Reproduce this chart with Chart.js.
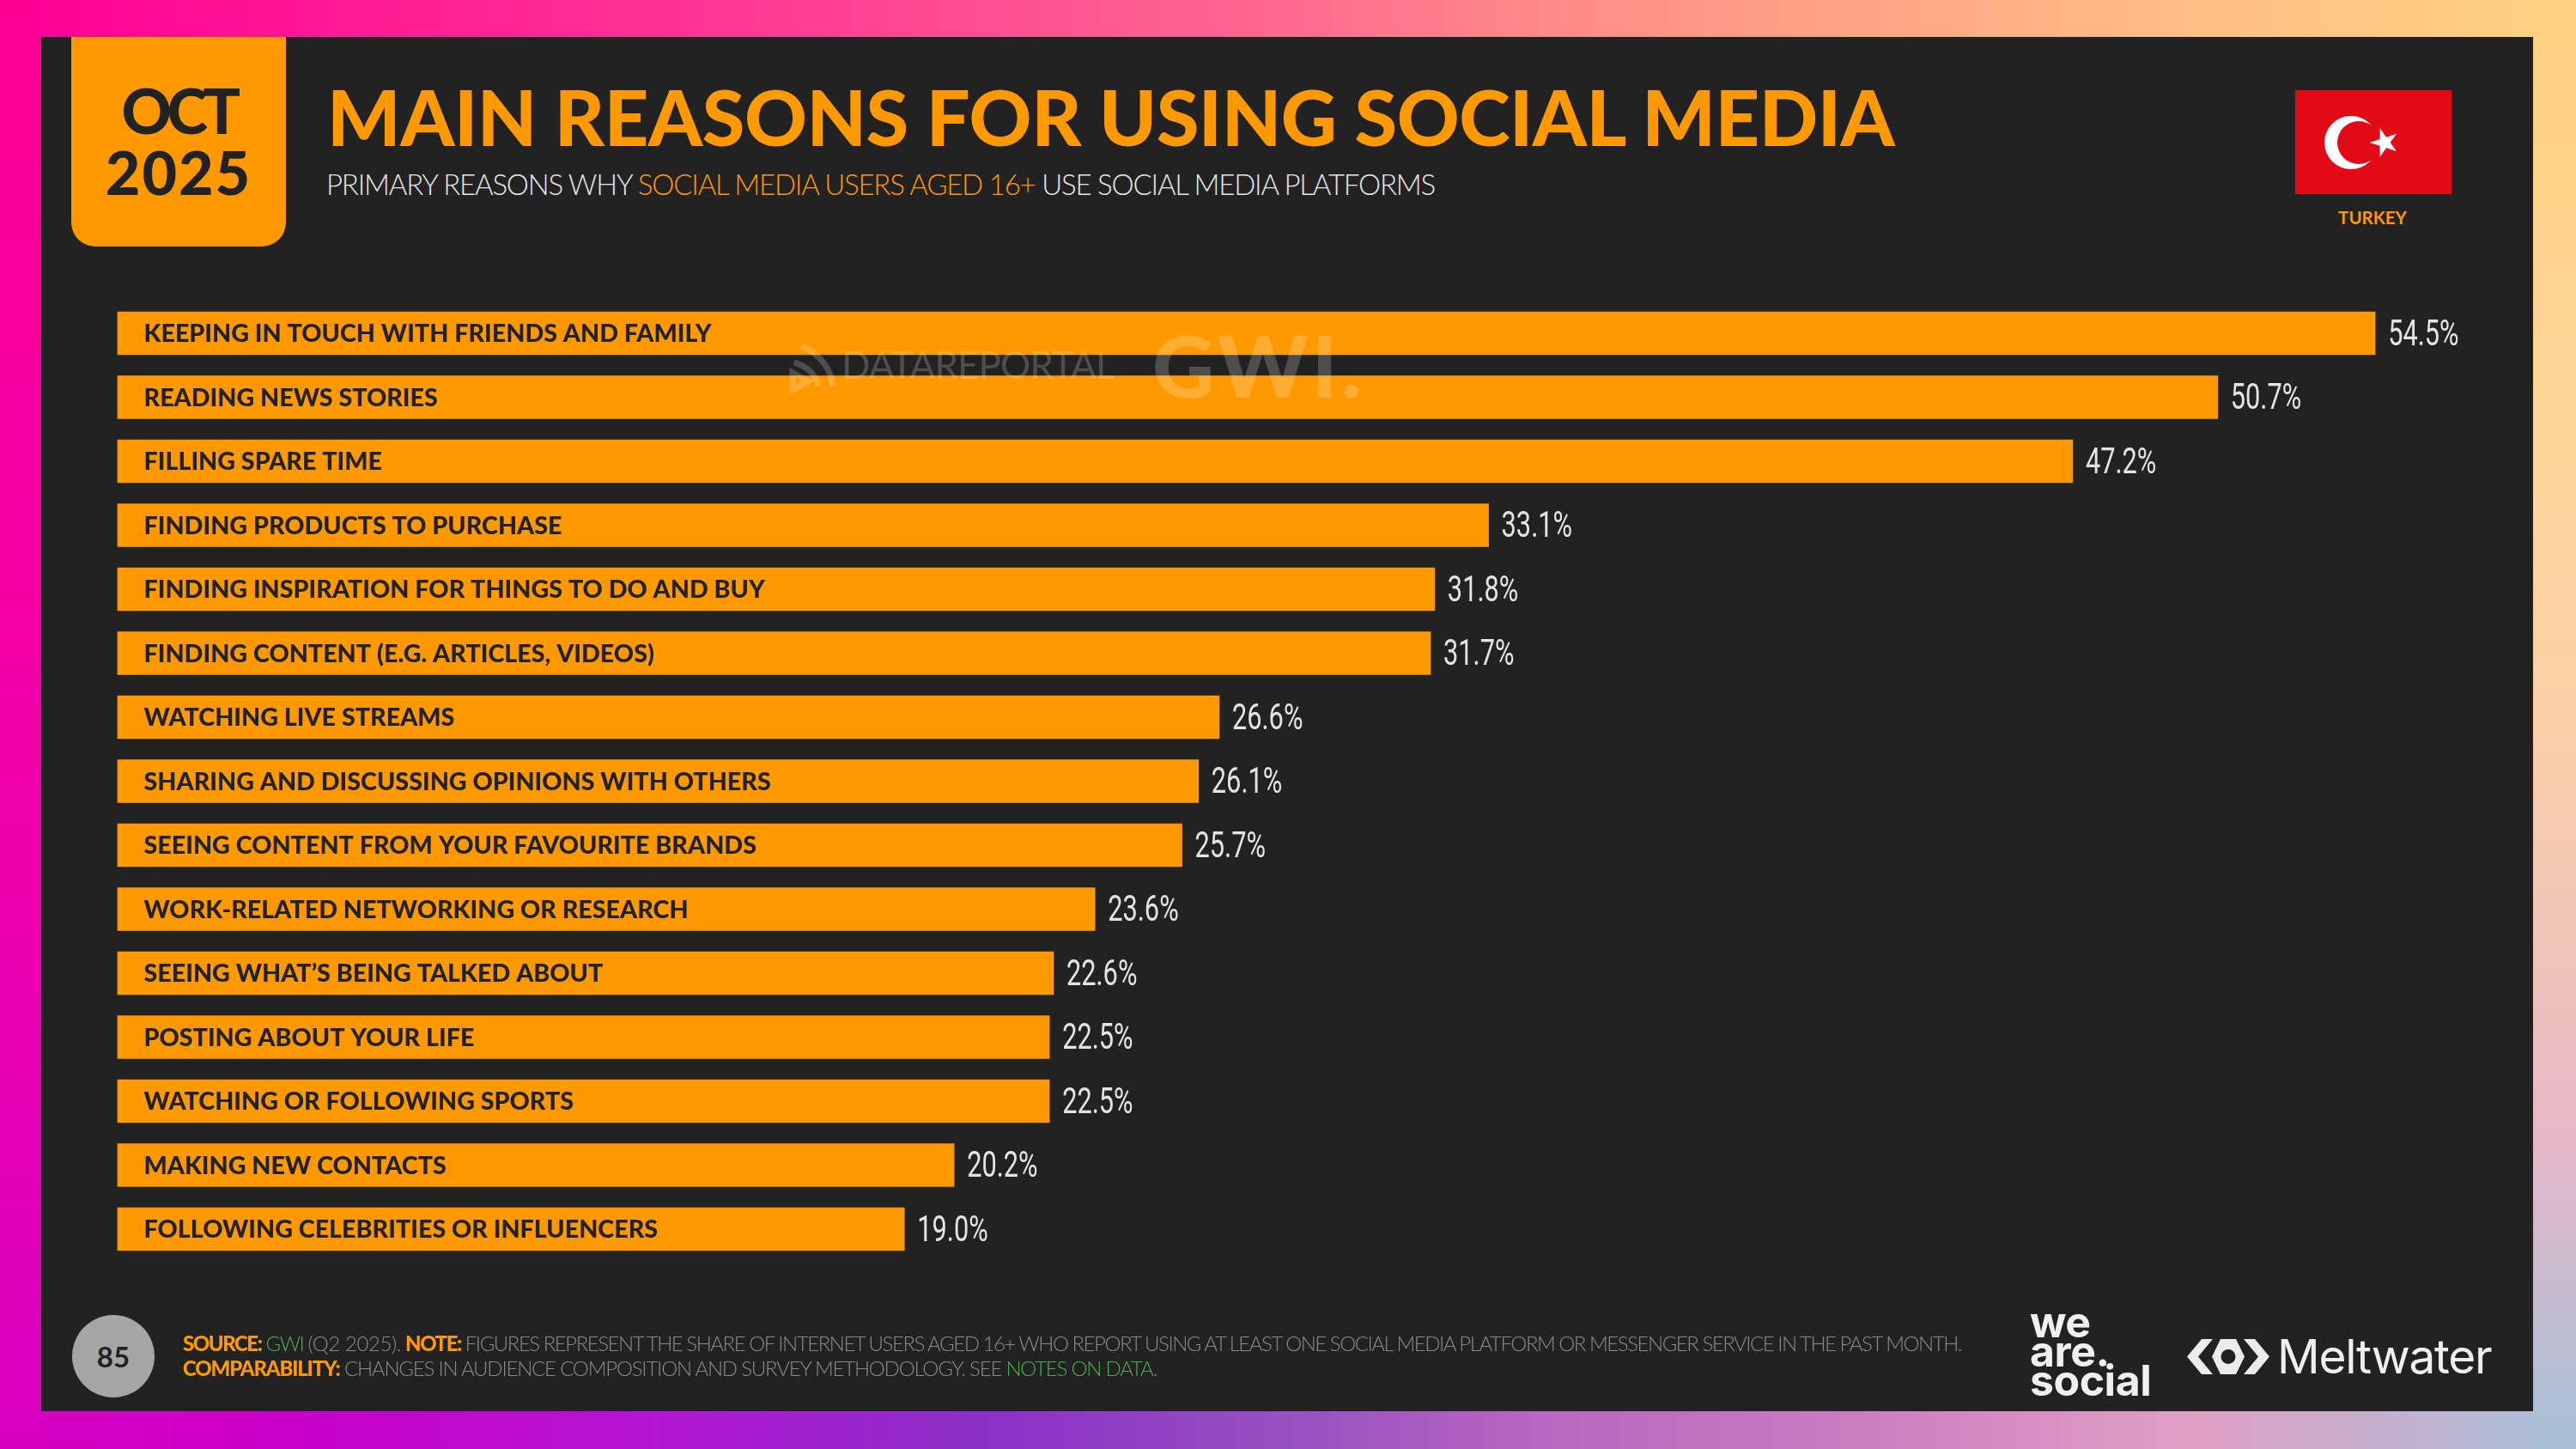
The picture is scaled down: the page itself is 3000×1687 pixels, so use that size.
<!DOCTYPE html>
<html lang="en">
<head>
<meta charset="UTF-8">
<title>Main reasons for using social media</title>
<script src="https://cdn.jsdelivr.net/npm/chart.js"></script>
<style>
  html, body { margin: 0; padding: 0; background: #222; }
  #page { position: relative; width: 3000px; height: 1687px; overflow: hidden; font-family: Lato, sans-serif; }
  #page div, #page svg { position: absolute; }
  #top { left: 0; top: 0; width: 3000px; height: 43px; background: linear-gradient(90deg, #ff0096 0%, #ff3094 25%, #ff6a90 50%, #ff8b88 60%, #ffa085 70%, #ffbe85 85%, #ffd284 100%); }
  #bottom { left: 0; top: 1643px; width: 3000px; height: 44px; background: linear-gradient(90deg, #d800c0 0%, #cc00c8 10%, #b414d4 25%, #8a30c8 38%, #9850c0 50%, #b868c0 60%, #c878c0 70%, #e0a0c4 85%, #a8c0d8 100%); }
  #left { left: 0; top: 0; width: 48px; height: 1687px; background: linear-gradient(180deg, #ff0096 0%, #ee00ac 60%, #d800c0 100%); }
  #right { left: 2950px; top: 0; width: 50px; height: 1687px; background: linear-gradient(180deg, #ffd080 0%, #ffd69a 30%, #fad0a8 50%, #f0c4b8 65%, #e8b8c8 78%, #c4bcd0 90%, #a8c0d8 100%); }
  #panel { left: 48px; top: 43px; width: 2902px; height: 1600px; background: #222; }
  canvas { position: absolute; left: 0; top: 0; }
  #badge { left: 83px; top: 43px; width: 250px; height: 244px; background: #ff9900; border-radius: 0 0 28px 28px; }
  .badgeText { left: 83px; width: 250px; text-align: center; color: #222; font-weight: 900; line-height: 1; white-space: nowrap; }
  #oct { top: 92px; font-size: 72px; letter-spacing: -5.5px; }
  #year { top: 165px; font-size: 70px; letter-spacing: 2px; }
  #title { left: 381px; top: 90px; font-size: 90px; line-height: 1; font-weight: 900; color: #ff9900; white-space: nowrap; letter-spacing: -0.45px; }
  #subtitle { left: 380px; top: 198px; font-size: 33px; line-height: 1; font-weight: 300; color: #e8e8e8; white-space: nowrap; letter-spacing: -1.22px; }
  #subtitle span { color: #ff9900; }
  #country { left: 2663px; top: 243px; width: 200px; text-align: center; font-size: 20.5px; line-height: 1; font-weight: 700; color: #ff9900; }
  .mark { color: rgba(255,255,255,0.2); font-weight: 700; line-height: 1; white-space: nowrap; z-index: 5; }
  #markPortal { left: 980px; top: 402px; font-size: 44px; font-weight: 400; letter-spacing: -0.9px; }
  #markGwi { left: 1342px; top: 374px; font-size: 100px; font-weight: 900; letter-spacing: 4px; }
  #pageNo { left: 84px; top: 1531px; width: 96px; height: 96px; border-radius: 48px; background: #a6a6a6; color: #222; font-size: 33px; font-weight: 700; text-align: center; line-height: 96px; }
  .foot { left: 213px; font-size: 24px; line-height: 1; color: #8a8a8a; font-weight: 300; white-space: nowrap; letter-spacing: -1.2px; }
  .foot b { color: #ff9900; font-weight: 900; }
  .foot i { color: #4caf50; font-style: normal; }
  .foot span { letter-spacing: -0.4px; }
  #foot1 { top: 1552px; letter-spacing: -1.47px; }
  #foot2 { top: 1581px; }
  #weare { left: 2364px; top: 1522px; color: #f0f0f0; font-family: Inter, sans-serif; font-weight: 700; font-size: 50px; line-height: 34px; letter-spacing: -0.5px; }
  #melt { left: 2652px; top: 1552px; color: #f0f0f0; font-family: Inter, sans-serif; font-weight: 400; font-size: 55px; line-height: 1; letter-spacing: -1.25px; }
</style>
</head>
<body>
<div id="page">
  <div id="top"></div>
  <div id="bottom"></div>
  <div id="left"></div>
  <div id="right"></div>
  <div id="panel"></div>
  <div id="badge"></div>
  <div id="oct" class="badgeText">OCT</div>
  <div id="year" class="badgeText">2025</div>
  <div id="title">MAIN REASONS FOR USING SOCIAL MEDIA</div>
  <div id="subtitle">PRIMARY REASONS WHY <span>SOCIAL MEDIA USERS AGED 16+</span> USE SOCIAL MEDIA PLATFORMS</div>
  <svg style="left:2673px;top:105px" width="182" height="121" viewBox="0 0 182 121">
    <rect width="182" height="121" fill="#e30a17"/>
    <circle cx="65" cy="61" r="31" fill="#fff"/>
    <circle cx="74" cy="61" r="25" fill="#e30a17"/>
    <polygon fill="#fff" stroke="#fff" stroke-width="1.5" points="89,61 99.4,57.6 99.4,46.7 105.8,55.6 116.1,52.2 109.7,61 116.1,69.8 105.8,66.4 99.4,75.3 99.4,64.4"/>
  </svg>
  <div id="country">TURKEY</div>
  <canvas id="chart" width="3000" height="1687"></canvas>
  <svg style="left:919px;top:400px;z-index:5" width="54" height="58" viewBox="0 0 54 58" fill="none" stroke="rgba(255,255,255,0.2)" stroke-width="7">
    <path d="M14 3 C36 12 50 30 50 50"/>
    <path d="M6 22 C20 26 32 36 34 50"/>
    <path d="M4 34 L4 54 L22 44 Z"/>
  </svg>
  <div id="markPortal" class="mark">DATAREPORTAL</div>
  <div id="markGwi" class="mark">GWI.</div>
  <div id="pageNo">85</div>
  <div id="foot1" class="foot"><b>SOURCE:</b> <i>GWI</i> <span>(Q2 2025).</span> <b>NOTE:</b> FIGURES REPRESENT THE SHARE OF INTERNET USERS AGED 16+ WHO REPORT USING AT LEAST ONE SOCIAL MEDIA PLATFORM OR MESSENGER SERVICE IN THE PAST MONTH.</div>
  <div id="foot2" class="foot"><b>COMPARABILITY:</b> CHANGES IN AUDIENCE COMPOSITION AND SURVEY METHODOLOGY. SEE <i>NOTES ON DATA</i>.</div>
  <div id="weare">we<br>are.<br>social</div>
  <svg style="left:2547px;top:1559px" width="96" height="41" viewBox="0 0 96 41" fill="#ececec">
    <polygon points="0,20.5 17,0 30,0 13,20.5 30,41 17,41"/>
    <polygon points="96,20.5 79,0 66,0 83,20.5 66,41 79,41"/>
    <polygon points="39,0 57,0 67,20.5 57,41 39,41 29,20.5"/>
    <circle cx="48" cy="20.5" r="8.5" fill="#222"/>
  </svg>
  <div id="melt">Meltwater</div>
</div>
<script>
var categories = [
  "KEEPING IN TOUCH WITH FRIENDS AND FAMILY",
  "READING NEWS STORIES",
  "FILLING SPARE TIME",
  "FINDING PRODUCTS TO PURCHASE",
  "FINDING INSPIRATION FOR THINGS TO DO AND BUY",
  "FINDING CONTENT (E.G. ARTICLES, VIDEOS)",
  "WATCHING LIVE STREAMS",
  "SHARING AND DISCUSSING OPINIONS WITH OTHERS",
  "SEEING CONTENT FROM YOUR FAVOURITE BRANDS",
  "WORK-RELATED NETWORKING OR RESEARCH",
  "SEEING WHAT\u2019S BEING TALKED ABOUT",
  "POSTING ABOUT YOUR LIFE",
  "WATCHING OR FOLLOWING SPORTS",
  "MAKING NEW CONTACTS",
  "FOLLOWING CELEBRITIES OR INFLUENCERS"
];
var values = [54.5, 50.7, 47.2, 33.1, 31.8, 31.7, 26.6, 26.1, 25.7, 23.6, 22.6, 22.5, 22.5, 20.2, 19.0];

// value labels sit just past the end of each bar
var valueLabels = {
  id: "valueLabels",
  afterDatasetsDraw: function (chart) {
    var ctx = chart.ctx;
    chart.getDatasetMeta(0).data.forEach(function (bar, i) {
      ctx.save();
      ctx.translate(bar.x + 15, bar.y + 3);
      ctx.scale(0.715, 1);
      ctx.font = "43px Roboto, sans-serif";
      ctx.fillStyle = "#e4e4e4";
      ctx.textBaseline = "middle";
      ctx.fillText(values[i].toFixed(1) + "%", 0, 0);
      ctx.restore();
    });
  }
};

new Chart(document.getElementById("chart"), {
  type: "bar",
  data: {
    labels: categories,
    datasets: [{
      data: values,
      backgroundColor: "#ff9900",
      barThickness: 50
    }]
  },
  plugins: [valueLabels],
  options: {
    indexAxis: "y",
    responsive: false,
    animation: false,
    devicePixelRatio: 1,
    layout: {
      padding: { left: 136.5, right: 113.25, top: 350.75, bottom: 218.75 }
    },
    plugins: {
      legend: { display: false },
      tooltip: { enabled: false }
    },
    scales: {
      x: { display: false, min: 0, max: 57 },
      y: {
        border: { display: false },
        grid: { display: false },
        afterFit: function (axis) { axis.width = 0; }, // labels live inside the bars
        ticks: {
          mirror: true,
          z: 1,
          padding: 31,
          labelOffset: 1,
          color: "#222222",
          font: { family: "Lato", weight: "900", size: 28.7 }
        }
      }
    }
  }
});
</script>
</body>
</html>
